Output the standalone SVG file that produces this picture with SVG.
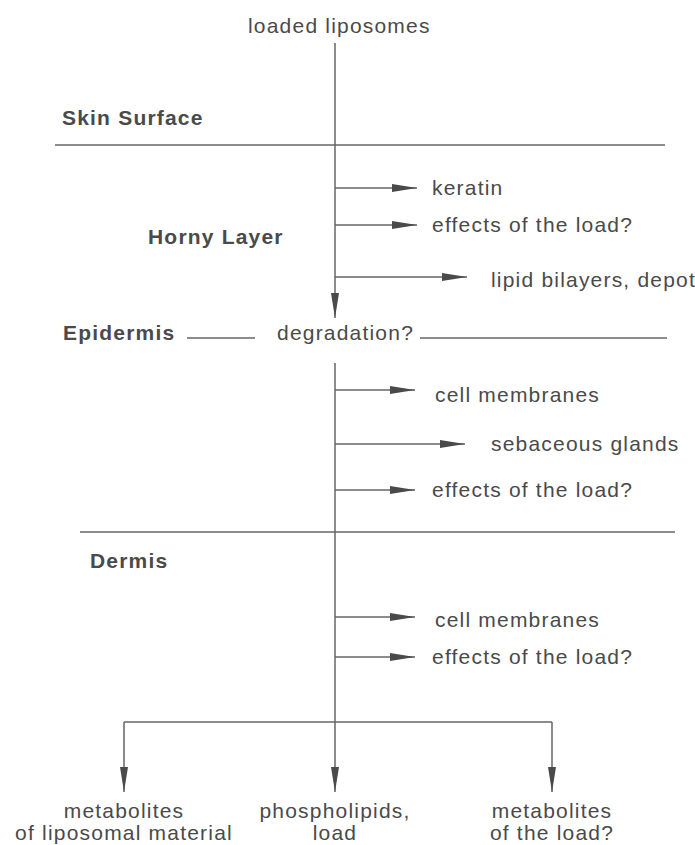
<svg xmlns="http://www.w3.org/2000/svg" width="695" height="845" viewBox="0 0 695 845">
<style>
  text { font-family: "Liberation Sans", Arial, sans-serif; font-size: 21px; letter-spacing: 1.2px; fill: #4a4a4a; }
  .b { font-weight: bold; }
  .c { text-anchor: middle; }
  .ln { stroke: #666; stroke-width: 1.5; fill: none; }
</style>
<defs>
  <marker id="ah" viewBox="0 0 25 8" refX="25" refY="4" markerWidth="25" markerHeight="8" markerUnits="userSpaceOnUse" orient="auto">
    <path d="M0,0 L25,4 L0,8 Z" fill="#4a4a4a"/>
  </marker>
</defs>
<rect width="695" height="845" fill="#fff"/>
<g id="layers">
  <line class="ln" x1="55" y1="145" x2="665" y2="145"/>
  <line class="ln" x1="187" y1="338" x2="255" y2="338"/>
  <line class="ln" x1="420" y1="338" x2="667" y2="338"/>
  <line class="ln" x1="80" y1="532" x2="675" y2="532"/>
</g>
<g id="connectors">
  <line class="ln" x1="335" y1="43" x2="335" y2="318" marker-end="url(#ah)"/>
  <line class="ln" x1="335" y1="188" x2="417" y2="188" marker-end="url(#ah)"/>
  <line class="ln" x1="335" y1="225" x2="417" y2="225" marker-end="url(#ah)"/>
  <line class="ln" x1="335" y1="277" x2="467" y2="277" marker-end="url(#ah)"/>
  <line class="ln" x1="335" y1="363" x2="335" y2="792" marker-end="url(#ah)"/>
  <line class="ln" x1="335" y1="390" x2="415" y2="390" marker-end="url(#ah)"/>
  <line class="ln" x1="335" y1="444" x2="465" y2="444" marker-end="url(#ah)"/>
  <line class="ln" x1="335" y1="490" x2="415" y2="490" marker-end="url(#ah)"/>
  <line class="ln" x1="335" y1="617" x2="415" y2="617" marker-end="url(#ah)"/>
  <line class="ln" x1="335" y1="657" x2="415" y2="657" marker-end="url(#ah)"/>
  <line class="ln" x1="124" y1="722" x2="552" y2="722"/>
  <line class="ln" x1="124" y1="722" x2="124" y2="792" marker-end="url(#ah)"/>
  <line class="ln" x1="552" y1="722" x2="552" y2="792" marker-end="url(#ah)"/>
</g>
<g id="labels">
  <text class="b" x="62" y="125">Skin Surface</text>
  <text class="b" x="148" y="244">Horny Layer</text>
  <text class="b" x="63" y="340">Epidermis</text>
  <text class="b" x="90" y="568">Dermis</text>
</g>
<g id="n-loaded"><text x="248" y="33">loaded liposomes</text></g>
<g id="n-keratin"><text x="432" y="195">keratin</text></g>
<g id="n-effects1"><text x="432" y="232">effects of the load?</text></g>
<g id="n-lipid"><text x="491" y="287">lipid bilayers, depot</text></g>
<g id="n-degradation"><text x="277" y="340">degradation?</text></g>
<g id="n-cell1"><text x="435" y="402">cell membranes</text></g>
<g id="n-sebaceous"><text x="491" y="451">sebaceous glands</text></g>
<g id="n-effects2"><text x="432" y="497">effects of the load?</text></g>
<g id="n-cell2"><text x="435" y="627">cell membranes</text></g>
<g id="n-effects3"><text x="432" y="664">effects of the load?</text></g>
<g id="n-metab1"><text class="c" x="124" y="818">metabolites</text><text class="c" x="124" y="840">of liposomal material</text></g>
<g id="n-phospho"><text class="c" x="335" y="818">phospholipids,</text><text class="c" x="335" y="840">load</text></g>
<g id="n-metab2"><text class="c" x="552" y="818">metabolites</text><text class="c" x="552" y="840">of the load?</text></g>
</svg>
